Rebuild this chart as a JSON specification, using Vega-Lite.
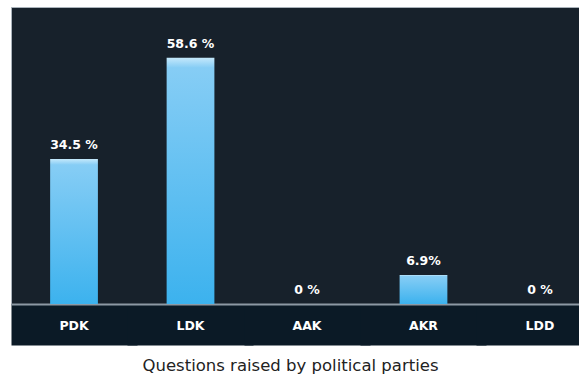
{
  "$schema": "https://vega.github.io/schema/vega-lite/v6.json",
  "autosize": "none",
  "width": 592,
  "height": 297,
  "padding": {"left": 11, "top": 7, "right": 0, "bottom": 72},
  "background": "white",
  "config": {"view": {"fill": "#17212b", "stroke": "#aab3bb", "strokeWidth": 1}},
  "data": {"values": [
    {"party": "PDK", "value": 34.5, "label": "34.5 %"},
    {"party": "LDK", "value": 58.6, "label": "58.6 %"},
    {"party": "AAK", "value": 0, "label": "0 %"},
    {"party": "AKR", "value": 6.9, "label": "6.9%"},
    {"party": "LDD", "value": 0, "label": "0 %"}
  ]},
  "encoding": {
    "x": {
      "field": "party", "type": "nominal", "sort": null,
      "scale": {"paddingInner": 0.59, "paddingOuter": 0.336},
      "axis": {
        "title": "Questions raised by political parties",
        "domainColor": "#8d99a4", "domainWidth": 2,
        "ticks": true, "tickColor": "#0b1a26", "tickWidth": 126, "tickSize": 41,
        "labelAngle": 0, "labelColor": "white", "labelFont": "DejaVu Sans",
        "labelFontWeight": "bold", "labelFontSize": 12.5, "labelBaseline": "middle",
        "labelPadding": -20,
        "titleFont": "DejaVu Sans", "titleFontSize": 16.5, "titleFontWeight": "normal",
        "titleColor": "#222222", "titleX": 279, "titleY": 61, "titleBaseline": "middle"
      }
    }
  },
  "layer": [
    {
      "mark": {
        "type": "bar",
        "fill": {"gradient": "linear", "x1": 0, "y1": 0, "x2": 0, "y2": 1,
          "stops": [
            {"offset": 0, "color": "#c4e8fb"},
            {"offset": 0.04, "color": "#86cdf5"},
            {"offset": 1, "color": "#3cb2ee"}
          ]}
      },
      "encoding": {
        "y": {"field": "value", "type": "quantitative",
          "scale": {"domain": [0, 70.7], "nice": false}, "axis": null}
      }
    },
    {
      "mark": {"type": "text", "baseline": "alphabetic", "dy": -10, "color": "white",
        "font": "DejaVu Sans", "fontWeight": "bold", "fontSize": 12.5},
      "encoding": {
        "y": {"field": "value", "type": "quantitative"},
        "text": {"field": "label"}
      }
    }
  ]
}
